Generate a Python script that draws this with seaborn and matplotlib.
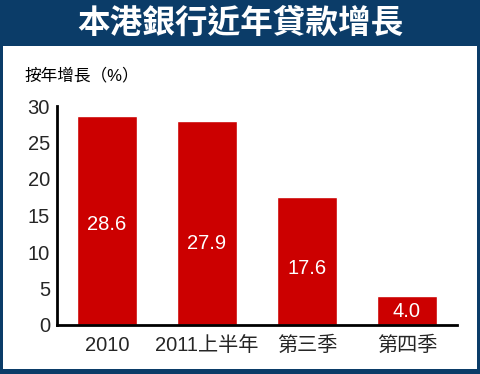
import matplotlib
matplotlib.use("Agg")
import matplotlib.pyplot as plt
import seaborn as sns
import pandas as pd
from matplotlib.patches import Rectangle

categories = ["2010", "2011上半年", "第三季", "第四季"]
values = [28.6, 27.9, 17.6, 4.0]
labels = ["28.6", "27.9", "17.6", "4.0"]
label_pos = [13.8, 11.2, 7.8, 1.8]
yticks = [0, 5, 10, 15, 20, 25, 30]
title = "本港銀行近年貸款增長"
ylabel = "按年增長（%）"

sns.set_style("white")
plt.rcParams["font.family"] = ["Liberation Sans", "Noto Sans CJK TC", "DejaVu Sans"]

navy = "#0b3c68"
red = "#cc0000"

fig = plt.figure(figsize=(4.81, 3.74), dpi=100)
fig.patch.set_facecolor(navy)
W, H = 481, 374
fig.patches.append(Rectangle((3 / W, 5 / H), 474 / W, (374 - 46 - 5) / H,
                             transform=fig.transFigure, facecolor="white",
                             edgecolor="none", zorder=-10))

ax = fig.add_axes([57 / W, (374 - 325) / H, 400 / W, (325 - 106) / H])
ax.set_zorder(5)
ax.set_facecolor("none")
df = pd.DataFrame({"cat": categories, "val": values})
sns.barplot(data=df, x="cat", y="val", color=red, saturation=1, width=0.6, ax=ax)

for i, (lab, yp) in enumerate(zip(labels, label_pos)):
    ax.text(i, yp, lab, color="white", ha="center", va="center", fontsize=14.5)

ax.set_xlim(-0.5, 3.5)
ax.set_ylim(0, 30)
ax.set_yticks(yticks)
ax.set_yticklabels([str(t) for t in yticks], fontsize=14.5)
ax.set_xticks(range(len(categories)))
ax.set_xticklabels(categories, fontsize=14.5)
ax.tick_params(axis="x", which="major", length=0, pad=8)
ax.set_xticks([-0.5, 0.5, 1.5, 2.5, 3.5], minor=True)
ax.tick_params(axis="x", which="minor", length=5, width=2, direction="out", color="black")
ax.tick_params(axis="y", length=4, width=1.5, direction="out", pad=1, color="black")
ax.set_xlabel("")
ax.set_ylabel("")
for s in ["top", "right"]:
    ax.spines[s].set_visible(False)
for s in ["left", "bottom"]:
    ax.spines[s].set_linewidth(2)
    ax.spines[s].set_color("black")

fig.text(0.5, 1 - 24 / H, title, color="white", fontsize=23.5, fontweight="bold",
         ha="center", va="center")
fig.text(24 / W, 1 - 75 / H, ylabel, color="black", fontsize=12, ha="left", va="center")

fig.savefig("out.png", dpi=100, facecolor=fig.get_facecolor())
